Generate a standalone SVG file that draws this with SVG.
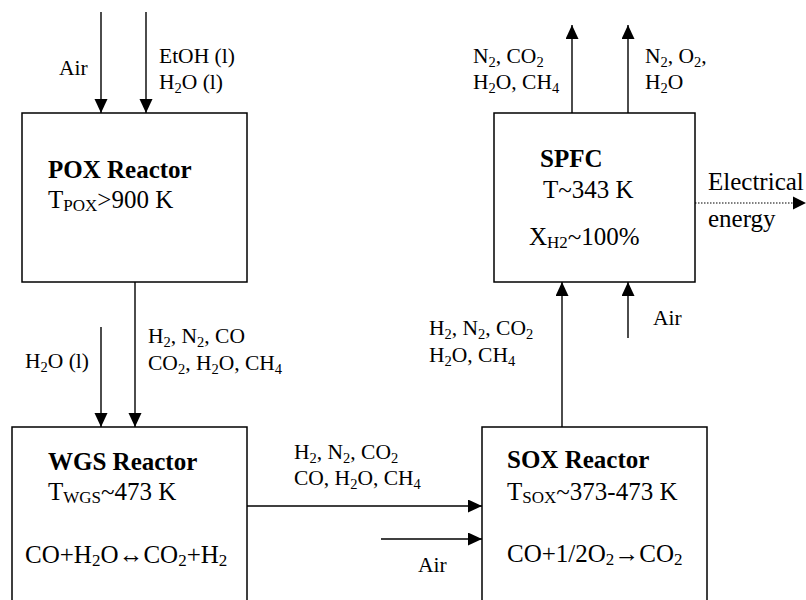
<svg xmlns="http://www.w3.org/2000/svg" width="806" height="600" viewBox="0 0 806 600">
<style>
text{font-family:'Liberation Serif','Times New Roman',Times,'DejaVu Serif',serif;fill:#000}
.lbl{font-size:21.5px}
.big{font-size:25px}
.bold{font-size:25px;font-weight:bold}
.s{font-size:14.5px}
.S{font-size:17px}
.box{fill:#fff;stroke:#000;stroke-width:1.5}
.ln{stroke:#000;stroke-width:1.4;fill:none}
.dot{stroke:#000;stroke-width:1.2;fill:none;stroke-dasharray:1.5 1.5}
</style>
<defs>
<marker id="ah" markerUnits="userSpaceOnUse" markerWidth="14" markerHeight="14" refX="14" refY="6.5" orient="auto">
<path d="M0,0 L14,6.5 L0,13 z" fill="#000"/>
</marker>
</defs>
<g id="connectors">
<line class="ln" x1="101" y1="12" x2="101" y2="113" marker-end="url(#ah)"/>
<line class="ln" x1="146" y1="12" x2="146" y2="113" marker-end="url(#ah)"/>
<line class="ln" x1="135" y1="282" x2="135" y2="427" marker-end="url(#ah)"/>
<line class="ln" x1="101" y1="327" x2="101" y2="427" marker-end="url(#ah)"/>
<line class="ln" x1="247" y1="506" x2="482" y2="506" marker-end="url(#ah)"/>
<line class="ln" x1="381" y1="539" x2="482" y2="539" marker-end="url(#ah)"/>
<line class="ln" x1="562" y1="427" x2="562" y2="282" marker-end="url(#ah)"/>
<line class="ln" x1="628" y1="338" x2="628" y2="282" marker-end="url(#ah)"/>
<line class="ln" x1="572" y1="113" x2="572" y2="25" marker-end="url(#ah)"/>
<line class="ln" x1="628" y1="113" x2="628" y2="25" marker-end="url(#ah)"/>
<line class="dot" x1="695" y1="203" x2="795" y2="203"/>
<path d="M793,196.5 L806,203 L793,209.5 z" fill="#000"/>
<text class="lbl" x="59" y="75">Air</text>
<text class="lbl" x="159" y="63">EtOH (l)</text>
<text class="lbl" x="159" y="89">H<tspan class="s" dy="4">2</tspan><tspan dy="-4">O (l)</tspan></text>
<text class="lbl" x="25" y="368">H<tspan class="s" dy="4">2</tspan><tspan dy="-4">O (l)</tspan></text>
<text class="lbl" x="148" y="343">H<tspan class="s" dy="4">2</tspan><tspan dy="-4">, N</tspan><tspan class="s" dy="4">2</tspan><tspan dy="-4">, CO</tspan></text>
<text class="lbl" x="148" y="370">CO<tspan class="s" dy="4">2</tspan><tspan dy="-4">, H</tspan><tspan class="s" dy="4">2</tspan><tspan dy="-4">O, CH</tspan><tspan class="s" dy="4">4</tspan></text>
<text class="lbl" x="294" y="459">H<tspan class="s" dy="4">2</tspan><tspan dy="-4">, N</tspan><tspan class="s" dy="4">2</tspan><tspan dy="-4">, CO</tspan><tspan class="s" dy="4">2</tspan></text>
<text class="lbl" x="294" y="485">CO, H<tspan class="s" dy="4">2</tspan><tspan dy="-4">O, CH</tspan><tspan class="s" dy="4">4</tspan></text>
<text class="lbl" x="418" y="572">Air</text>
<text class="lbl" x="429" y="335">H<tspan class="s" dy="4">2</tspan><tspan dy="-4">, N</tspan><tspan class="s" dy="4">2</tspan><tspan dy="-4">, CO</tspan><tspan class="s" dy="4">2</tspan></text>
<text class="lbl" x="429" y="362">H<tspan class="s" dy="4">2</tspan><tspan dy="-4">O, CH</tspan><tspan class="s" dy="4">4</tspan></text>
<text class="lbl" x="653" y="325">Air</text>
<text class="lbl" x="473" y="63">N<tspan class="s" dy="4">2</tspan><tspan dy="-4">, CO</tspan><tspan class="s" dy="4">2</tspan></text>
<text class="lbl" x="473" y="89">H<tspan class="s" dy="4">2</tspan><tspan dy="-4">O, CH</tspan><tspan class="s" dy="4">4</tspan></text>
<text class="lbl" x="645" y="63">N<tspan class="s" dy="4">2</tspan><tspan dy="-4">, O</tspan><tspan class="s" dy="4">2</tspan><tspan dy="-4">,</tspan></text>
<text class="lbl" x="645" y="89">H<tspan class="s" dy="4">2</tspan><tspan dy="-4">O</tspan></text>
<text class="big" x="708" y="190">Electrical</text>
<text class="big" x="708" y="227">energy</text>
</g>
<g id="pox">
<rect class="box" x="22" y="113" width="225" height="169"/>
<text class="bold" x="48" y="178">POX Reactor</text>
<text class="big" x="48" y="208">T<tspan class="S" dy="3">POX</tspan><tspan dy="-3">&gt;900 K</tspan></text>
</g>
<g id="wgs">
<rect class="box" x="12" y="427" width="235" height="190"/>
<text class="bold" x="48" y="470">WGS Reactor</text>
<text class="big" x="48" y="500">T<tspan class="S" dy="3">WGS</tspan><tspan dy="-3">~473 K</tspan></text>
<text class="big" x="25" y="563">CO+H<tspan class="S" dy="3">2</tspan><tspan dy="-3">O↔CO</tspan><tspan class="S" dy="3">2</tspan><tspan dy="-3">+H</tspan><tspan class="S" dy="3">2</tspan></text>
</g>
<g id="sox">
<rect class="box" x="482" y="427" width="225" height="190"/>
<text class="bold" x="507" y="468">SOX Reactor</text>
<text class="big" x="507" y="500">T<tspan class="S" dy="3">SOX</tspan><tspan dy="-3">~373-473 K</tspan></text>
<text class="big" x="507" y="562">CO+1/2O<tspan class="S" dy="3">2</tspan><tspan dy="-3">→CO</tspan><tspan class="S" dy="3">2</tspan></text>
</g>
<g id="spfc">
<rect class="box" x="494" y="113" width="201" height="169"/>
<text class="bold" x="540" y="167">SPFC</text>
<text class="big" x="543" y="198">T~343 K</text>
<text class="big" x="529" y="245">X<tspan class="S" dy="3">H2</tspan><tspan dy="-3">~100%</tspan></text>
</g>
</svg>
